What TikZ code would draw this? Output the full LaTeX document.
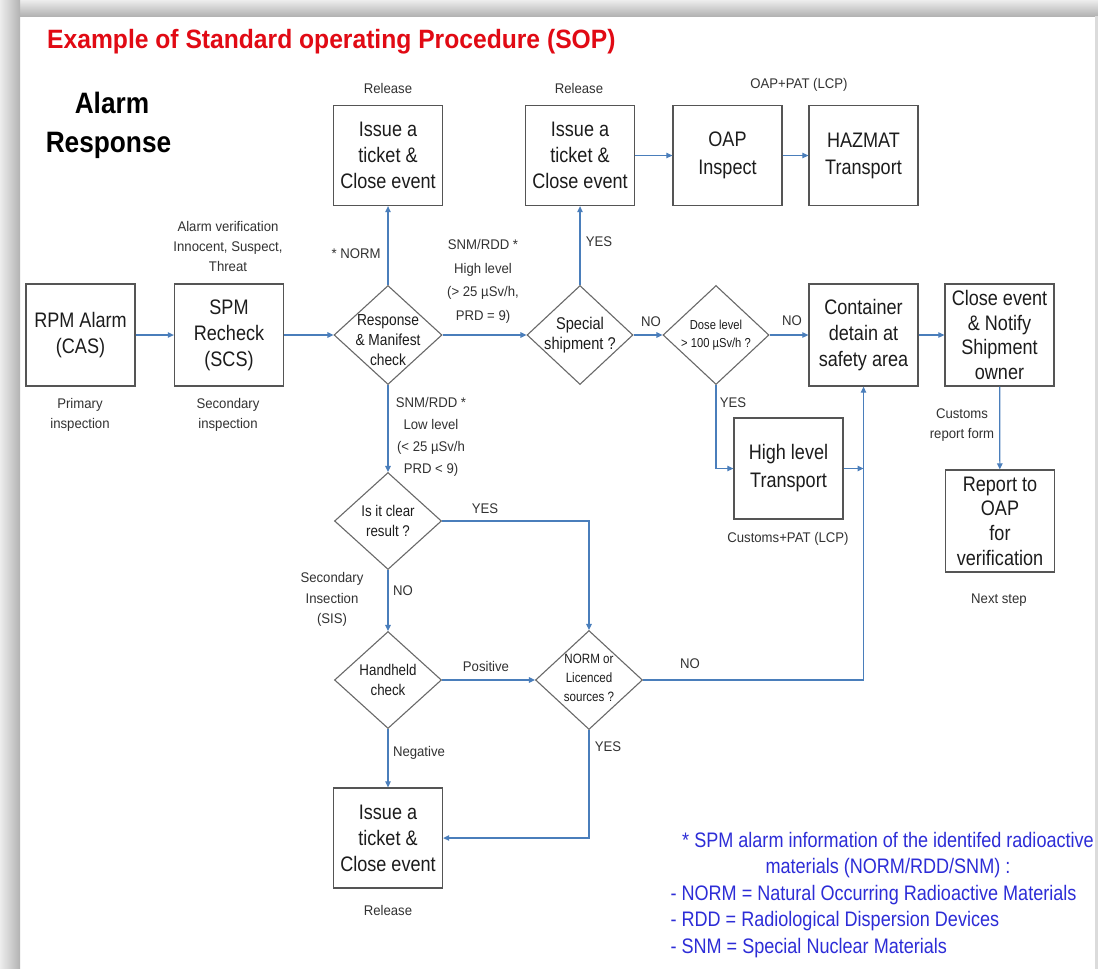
\documentclass[tikz,border=0pt]{standalone}
\usepackage{fontspec}
\setmainfont{Liberation Sans}
\newfontfamily\boxf[FakeStretch=0.86]{Liberation Sans}
\newfontfamily\lblf[FakeStretch=0.94]{Liberation Sans}
\newfontfamily\ttlf[FakeStretch=0.93]{Liberation Sans}
\newfontfamily\hdf[FakeStretch=0.89]{Liberation Sans}
\usetikzlibrary{shapes.geometric,arrows.meta}
\definecolor{conn}{RGB}{74,126,187}
\definecolor{boxline}{RGB}{85,85,85}
\definecolor{dmline}{RGB}{105,105,105}
\definecolor{ttlred}{RGB}{225,10,20}
\definecolor{legblue}{RGB}{45,45,215}
\definecolor{txt}{RGB}{28,28,28}
\definecolor{lbltxt}{RGB}{50,50,50}
\begin{document}
\begin{tikzpicture}[x=1pt,y=-1pt,
  bx/.style={draw=boxline, line width=1.3pt, minimum width=109pt, minimum height=100pt,
    inner sep=0pt, align=center, font=\boxf\fontsize{21}{26}\selectfont, text=txt},
  dm/.style={draw=dmline, line width=1.1pt, diamond, minimum width=107pt,
    minimum height=99pt, inner sep=0pt},
  dtext/.style={align=center, text=txt, font=\boxf\fontsize{16}{20}\selectfont},
  lbl/.style={align=center, text=lbltxt, font=\lblf\fontsize{14}{20}\selectfont},
  leg/.style={align=center, text=legblue, font=\boxf\fontsize{21}{26.5}\selectfont},
  arr/.style={draw=conn, line width=1.2pt, -{Triangle[width=5.5pt,length=6pt]}}
]
\useasboundingbox (0,0) rectangle (1098,969);
\fill[white] (0,0) rectangle (1098,969);
% slide shadow
\shade[top color=black!7, bottom color=black!30] (0,0) rectangle (1098,16);
\shade[left color=black!7, right color=black!30] (0,0) rectangle (20,969);
\fill[black!14] (1095,16) rectangle (1098,969);

% title
\node[anchor=base west, inner sep=0pt, text=ttlred, font=\ttlf\bfseries\fontsize{26.5}{30}\selectfont] (title) at (47,48) {Example of Standard operating Procedure (SOP)};
\node[anchor=base, inner sep=0pt, text=black, font=\hdf\bfseries\fontsize{29.5}{39}\selectfont] (alarm) at (112,113) {Alarm};
\node[anchor=base, inner sep=0pt, text=black, font=\hdf\bfseries\fontsize{29.5}{39}\selectfont] (response) at (108.5,152) {Response};

% boxes
\node[bx, minimum height=102pt] (rpm) at (80.5,335) {RPM Alarm\\(CAS)};
\node[bx, minimum height=102pt] (spm) at (229,335) {SPM\\Recheck\\(SCS)};
\node[bx] (top1) at (388,155.5) {Issue a\\ticket \&\\Close event};
\node[bx] (top2) at (580,155.5) {Issue a\\ticket \&\\Close event};
\node[bx, font=\boxf\fontsize{21}{28}\selectfont] (oap) at (727.5,155.5) {OAP\\Inspect};
\node[bx, font=\boxf\fontsize{21}{27}\selectfont] (haz) at (863.5,155.5) {HAZMAT\\Transport};
\node[bx, minimum height=102pt] (cont) at (863.5,335) {Container\\detain at\\safety area};
\node[bx, minimum height=102pt, font=\boxf\fontsize{21}{24.5}\selectfont] (close) at (999.5,335) {Close event\\\& Notify\\Shipment\\owner};
\node[bx, minimum height=102pt, font=\boxf\fontsize{21}{24.7}\selectfont] (report) at (1000,521) {Report to\\OAP\\for\\verification};
\node[bx, minimum height=101pt, font=\boxf\fontsize{21}{28}\selectfont] (high) at (788.5,468.5) {High level\\Transport};
\node[bx] (bot) at (388,838) {Issue a\\ticket \&\\Close event};

% diamonds
\node[dm, minimum width=108pt, label={[dtext,yshift=-5pt]center:{Response\\\& Manifest\\check}}] (resp) at (388,335) {};
\node[dm, minimum width=106pt, label={[dtext,font=\boxf\fontsize{17}{20}\selectfont]center:{Special\\shipment ?}}] (spec) at (580,335) {};
\node[dm, minimum width=106pt, label={[dtext,font=\boxf\fontsize{13}{18}\selectfont]center:{Dose level\\> 100 µSv/h ?}}] (dose) at (716,335) {};
\node[dm, minimum height=97pt, label={[dtext,font=\boxf\fontsize{15.5}{20}\selectfont]center:{Is it clear\\result ?}}] (clear) at (388,521) {};
\node[dm, minimum height=97pt, label={[dtext,font=\boxf\fontsize{15.5}{20}\selectfont]center:{Handheld\\check}}] (hand) at (388,680) {};
\node[dm, label={[dtext,yshift=2pt,font=\boxf\fontsize{13.5}{19}\selectfont]center:{NORM or\\Licenced\\sources ?}}] (normq) at (589,680) {};

% connectors
\draw[arr] (rpm) -- (spm);
\draw[arr] (spm) -- (resp);
\draw[arr] (resp) -- (top1);
\draw[arr] (resp) -- (spec);
\draw[arr] (resp) -- (clear);
\draw[arr] (spec) -- (top2);
\draw[arr] (spec) -- (dose);
\draw[arr] (top2) -- (oap);
\draw[arr] (oap) -- (haz);
\draw[arr] (dose) -- (cont);
\draw[arr] (dose.south) |- (high.west);
\draw[arr] (high.east) -- (cont.south |- high.east);
\draw[arr] (normq.east) -| (cont.south);
\draw[arr] (cont) -- (close);
\draw[arr] (close) -- (report);
\draw[arr] (clear.east) -| (normq.north);
\draw[arr] (clear) -- (hand);
\draw[arr] (hand) -- (normq);
\draw[arr] (hand) -- (bot);
\draw[arr] (normq.south) |- (bot.east);

% labels
\node[lbl] (rel1) at (388,88) {Release};
\node[lbl] (rel2) at (579,88) {Release};
\node[lbl] (rel3) at (388,910) {Release};
\node[lbl] (oappat) at (799,85) {OAP+PAT (LCP)};
\node[lbl] (verif) at (228,246) {Alarm verification\\Innocent, Suspect,\\Threat};
\node[lbl] (prim) at (80,415) {Primary\\inspection};
\node[lbl] (sec) at (228,415) {Secondary\\inspection};
\node[lbl] (normlbl) at (356,254) {* NORM};
\node[lbl, font=\lblf\fontsize{14}{23.5}\selectfont] (hilbl) at (483,281.5) {SNM/RDD *\\High level\\(> 25 µSv/h,\\PRD = 9)};
\node[lbl] (yes1) at (599,242) {YES};
\node[lbl] (no1) at (651,322) {NO};
\node[lbl] (no2) at (792,321) {NO};
\node[lbl] (yes2) at (733,403) {YES};
\node[lbl, font=\lblf\fontsize{14}{22}\selectfont] (lowlbl) at (431,436.5) {SNM/RDD *\\Low level\\(< 25 µSv/h\\PRD < 9)};
\node[lbl] (cust) at (962,425) {Customs\\report form};
\node[lbl] (custpat) at (788,539) {Customs+PAT (LCP)};
\node[lbl] (next) at (999,600) {Next step};
\node[lbl] (yes3) at (485,509) {YES};
\node[lbl, font=\lblf\fontsize{14}{20.5}\selectfont] (sis) at (332,599.5) {Secondary\\Insection\\(SIS)};
\node[lbl] (no3) at (403,591) {NO};
\node[lbl] (pos) at (486,666) {Positive};
\node[lbl] (no4) at (690,664) {NO};
\node[lbl] (yes4) at (608,747) {YES};
\node[lbl] (neg) at (419,753) {Negative};

% legend
\node[leg] (leghead) at (888,855) {* SPM alarm information of the identifed radioactive\\materials (NORM/RDD/SNM) :};
\node[leg, align=left, anchor=west] (legitems) at (667,921.5) {- NORM = Natural Occurring Radioactive Materials\\- RDD = Radiological Dispersion Devices\\- SNM = Special Nuclear Materials};
\end{tikzpicture}
\end{document}
